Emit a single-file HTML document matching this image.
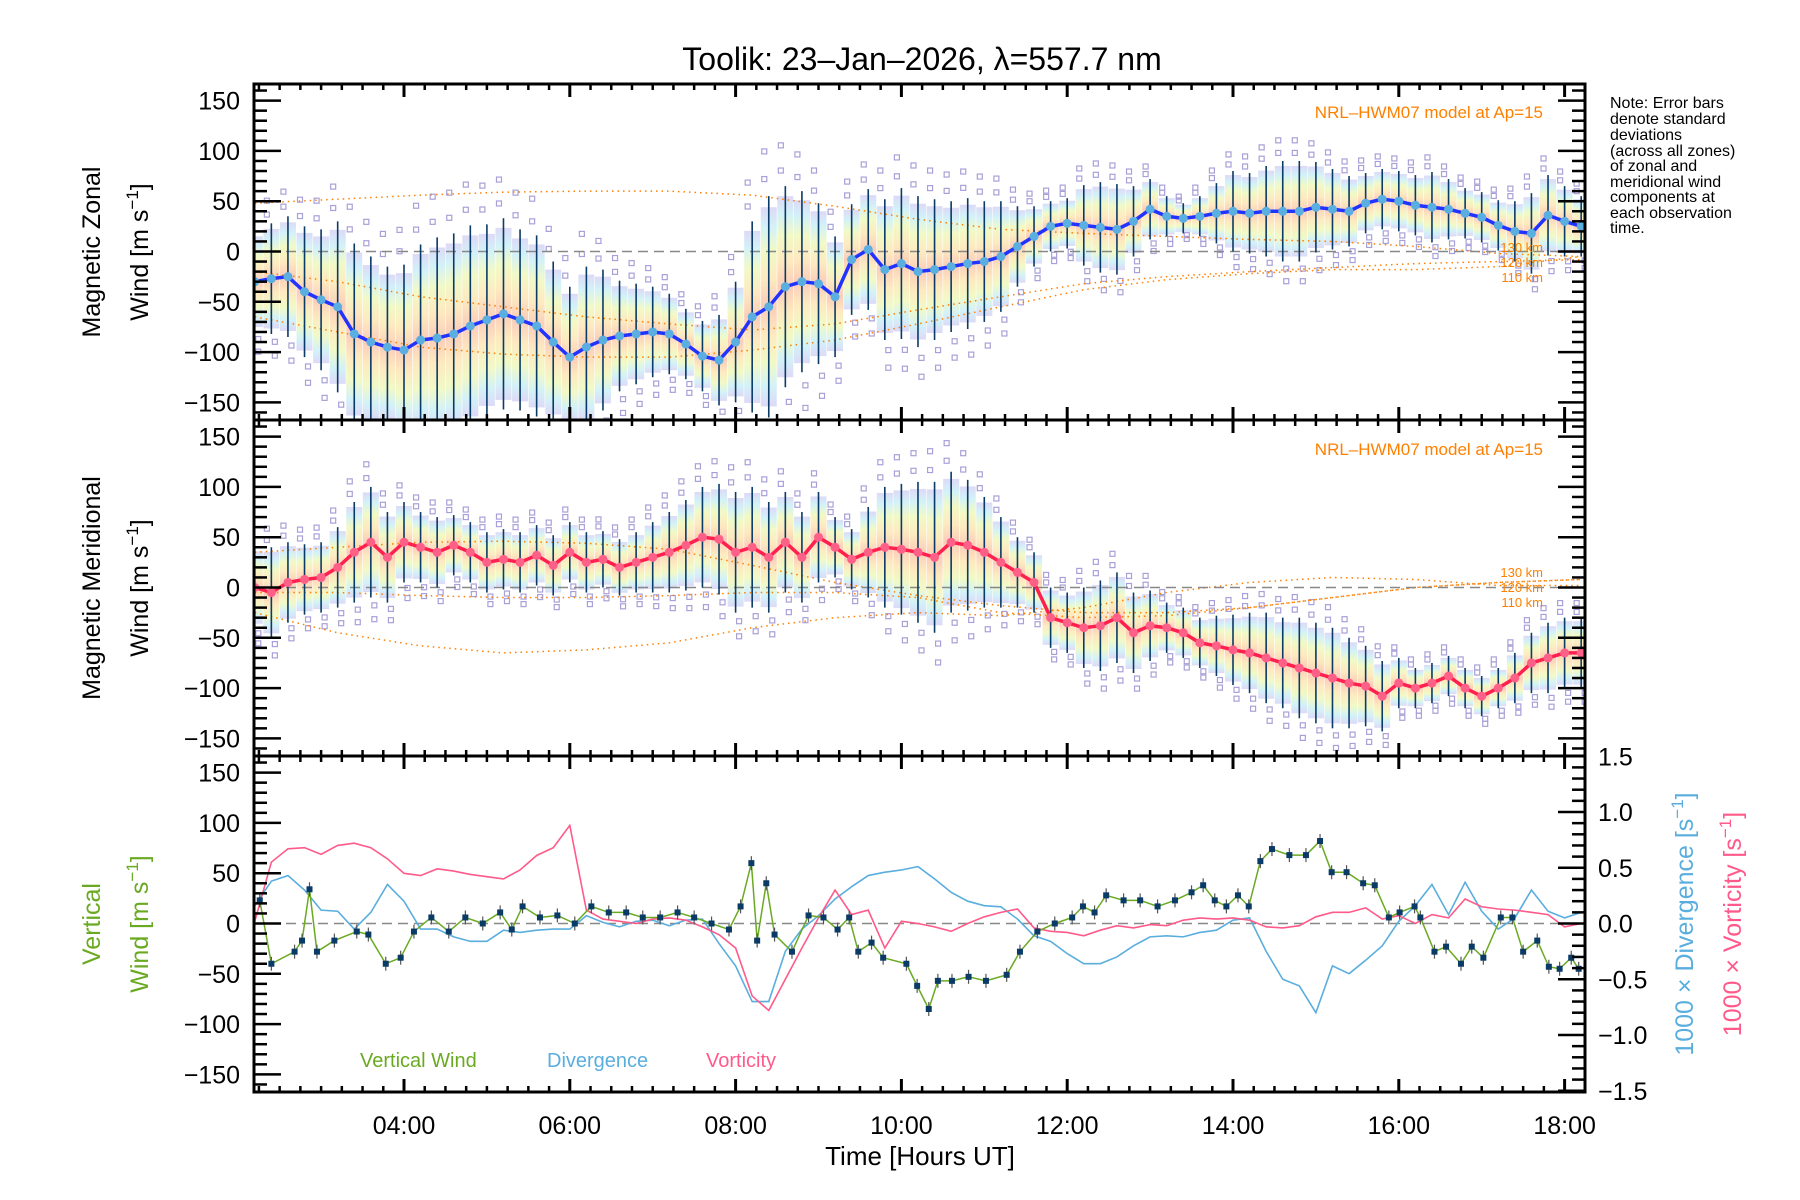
<!DOCTYPE html>
<html><head><meta charset="utf-8">
<style>
html,body{margin:0;padding:0;background:#fff;}
svg{display:block;font-family:"Liberation Sans",sans-serif;}
</style></head>
<body>
<svg id="chart" width="1800" height="1200" viewBox="0 0 1800 1200" xmlns="http://www.w3.org/2000/svg">
<defs>
<linearGradient id="rb" x1="0" y1="0" x2="0" y2="1">
<stop offset="0" stop-color="#d4d0f4"/>
<stop offset="0.1" stop-color="#c8eef6"/>
<stop offset="0.22" stop-color="#eef8b8"/>
<stop offset="0.36" stop-color="#fde4b0"/>
<stop offset="0.5" stop-color="#f9c0a8"/>
<stop offset="0.64" stop-color="#fde4b0"/>
<stop offset="0.78" stop-color="#eef8b8"/>
<stop offset="0.9" stop-color="#c8eef6"/>
<stop offset="1" stop-color="#d4d0f4"/>
</linearGradient>
<clipPath id="c1"><rect x="255" y="86" width="1329" height="334"/></clipPath>
<clipPath id="c2"><rect x="255" y="422" width="1329" height="333"/></clipPath>
<clipPath id="c3"><rect x="255" y="758" width="1329" height="333"/></clipPath>
</defs>
<text x="922" y="70" font-size="32" text-anchor="middle">Toolik: 23–Jan–2026, λ=557.7 nm</text>
<g id="layer"></g>
<text font-size="16" x="1610">
<tspan x="1610" y="108">Note: Error bars</tspan>
<tspan x="1610" y="124">denote standard</tspan>
<tspan x="1610" y="140">deviations</tspan>
<tspan x="1610" y="156">(across all zones)</tspan>
<tspan x="1610" y="171">of zonal and</tspan>
<tspan x="1610" y="187">meridional wind</tspan>
<tspan x="1610" y="202">components at</tspan>
<tspan x="1610" y="218">each observation</tspan>
<tspan x="1610" y="233">time.</tspan>
</text>
</svg>
<script>
// ---- data ----
const T0 = 2.2, DT = 0.2;
const zonalMean = [-30,-27,-25,-40,-48,-55,-82,-90,-95,-98,-88,-86,-82,-74,-68,-62,-68,-74,-90,-105,-95,-88,-84,-82,-80,-82,-92,-104,-108,-90,-65,-55,-35,-30,-32,-45,-8,2,-18,-12,-20,-18,-15,-12,-10,-5,5,15,25,28,26,24,22,30,42,35,33,35,38,40,38,40,40,40,44,42,40,48,52,50,46,44,42,38,34,26,20,18,36,30,25];
const zonalSd = [50,55,60,65,70,85,90,85,80,85,95,100,100,100,95,95,90,90,80,70,80,70,55,50,45,40,35,35,45,60,95,110,100,90,80,60,55,60,70,75,75,70,65,65,60,55,40,30,25,25,40,45,45,35,30,20,15,20,30,40,40,45,50,50,45,40,35,30,30,30,30,35,30,25,25,25,30,40,40,35,30];
const meridMean = [0,-5,5,8,10,20,35,45,30,45,40,35,42,35,25,28,25,32,22,35,25,28,20,25,30,35,42,50,48,35,40,30,45,30,50,40,28,35,40,38,35,30,45,42,35,25,15,5,-30,-35,-40,-38,-30,-45,-38,-40,-45,-55,-58,-62,-65,-70,-75,-80,-85,-90,-95,-98,-108,-95,-100,-95,-88,-100,-108,-100,-90,-75,-70,-65,-65];
const meridSd = [40,45,40,35,35,40,50,55,45,40,35,35,30,30,30,30,30,30,30,30,30,28,28,30,35,40,45,50,55,60,60,55,50,45,45,30,30,45,60,65,70,75,70,65,55,45,35,30,30,30,40,45,45,40,35,25,25,25,30,35,40,45,45,50,50,50,45,40,35,25,20,20,20,20,20,20,25,30,35,35,35];
const modelHours = [2.2,3.2,4.2,5.2,6.2,7.2,8.2,9.2,10.2,11.2,12.2,13.2,14.2,15.2,16.2,17.2,18.2];
const zonal130 = [48,52,56,59,60,60,56,45,32,22,18,15,12,10,5,-2,-5];
const zonal120 = [-20,-30,-45,-55,-65,-72,-78,-72,-58,-45,-32,-25,-20,-16,-12,-10,-8];
const zonal110 = [-65,-80,-95,-102,-105,-105,-98,-88,-72,-55,-38,-28,-22,-18,-18,-15,-5];
const merid130 = [35,40,45,46,44,38,22,5,-8,-18,-25,-25,-20,-10,0,5,8];
const merid120 = [-5,-5,-8,-10,-10,-8,-5,-5,-10,-25,-30,-28,-20,-10,0,5,8];
const merid110 = [-25,-45,-58,-65,-62,-55,-40,-30,-25,-28,-20,-5,5,10,8,2,2];
const vertHours = [2.26,2.40,2.68,2.77,2.86,2.95,3.16,3.43,3.57,3.78,3.96,4.12,4.33,4.54,4.74,4.95,5.16,5.30,5.43,5.64,5.85,6.06,6.26,6.47,6.68,6.88,7.09,7.30,7.50,7.71,7.92,8.06,8.19,8.26,8.37,8.47,8.68,8.88,9.06,9.23,9.37,9.48,9.64,9.78,10.06,10.19,10.33,10.44,10.61,10.81,11.02,11.27,11.43,11.64,11.85,12.06,12.19,12.33,12.47,12.68,12.88,13.09,13.30,13.50,13.64,13.78,13.92,14.06,14.19,14.33,14.47,14.68,14.88,15.05,15.19,15.37,15.57,15.71,15.88,16.01,16.19,16.26,16.43,16.57,16.75,16.88,17.02,17.23,17.37,17.50,17.67,17.81,17.94,18.08,18.17];
const vertWind = [23,-40,-28,-17,34,-28,-17,-8,-11,-40,-34,-8,6,-8,6,0,11,-6,17,6,8,0,17,11,11,6,6,11,6,0,-6,17,60,-17,40,-11,-28,8,6,-6,6,-28,-19,-34,-40,-62,-85,-57,-57,-53,-57,-51,-28,-8,0,6,17,11,28,23,23,17,23,31,38,23,17,28,17,62,74,68,68,82,51,51,40,38,6,11,17,6,-28,-23,-40,-23,-34,6,6,-28,-17,-43,-45,-34,-45];
const divergence = [0.16,0.38,0.43,0.30,0.12,0.11,-0.05,0.10,0.35,0.20,-0.05,-0.05,-0.12,-0.16,-0.16,-0.06,-0.08,-0.06,-0.05,-0.05,0.07,0.01,-0.03,0.02,0.03,-0.02,0.03,0.04,-0.18,-0.38,-0.70,-0.70,-0.25,-0.05,0.07,0.22,0.33,0.43,0.46,0.48,0.51,0.40,0.28,0.20,0.16,0.15,0.04,-0.11,-0.16,-0.27,-0.36,-0.36,-0.30,-0.20,-0.12,-0.11,-0.12,-0.08,-0.06,0.03,0.05,-0.25,-0.50,-0.56,-0.80,-0.38,-0.45,-0.33,-0.20,0.02,0.16,0.35,0.08,0.37,0.11,-0.05,0.05,0.30,0.11,0.05,0.10];
const vorticity = [0.02,0.55,0.67,0.68,0.62,0.70,0.72,0.68,0.58,0.45,0.43,0.49,0.47,0.44,0.42,0.40,0.48,0.61,0.68,0.88,0.12,0.04,0.02,0.0,0.04,0.05,0.03,-0.03,-0.10,-0.22,-0.65,-0.78,-0.50,-0.22,0.05,0.30,0.08,0.12,-0.22,0.02,0.0,-0.03,-0.07,0.0,0.06,0.10,0.13,-0.04,-0.07,-0.08,-0.11,-0.06,-0.02,-0.04,-0.01,-0.02,0.03,0.05,0.04,0.05,0.03,-0.03,-0.04,-0.02,0.06,0.10,0.10,0.14,0.04,0.07,0.0,0.08,0.05,0.22,0.15,0.13,0.12,0.10,0.08,-0.03,0.0];
const yTicks = [-150,-100,-50,0,50,100,150];
const rTicks = [-1.5,-1.0,-0.5,0.0,0.5,1.0,1.5];
const xTickHours = [4,6,8,10,12,14,16,18];
const xTickLabels = ["04:00","06:00","08:00","10:00","12:00","14:00","16:00","18:00"];

// ---- axes ----
const L=254, R=1585, PT=[84,420,756], PH=336;
const xS = h => 404 + (h-4)*82.9;
const yS = (p,v) => PT[p] + 167.5 - v*1.006;
const yR = v => PT[2] + 167.5 - v*111.5;
const NS='http://www.w3.org/2000/svg';
const layer=document.getElementById('layer');
function mk(tag, attrs, parent){const e=document.createElementNS(NS,tag);for(const k in attrs)e.setAttribute(k,attrs[k]);(parent||layer).appendChild(e);return e;}
function grp(name, clip){const g=mk('g', clip?{'clip-path':'url(#'+clip+')'}:{});


return g;}
const hourOf = i => T0 + DT*i;

function windPanel(p, mean, sd, lineCol, dotCol, models, prefix){
  const g=grp(prefix+'-series','c'+(p+1));
  mean.forEach((m,i)=>{
    const r=mk('rect',{x:xS(hourOf(i))-8,y:yS(p,m+sd[i]*0.9),width:16,height:sd[i]*1.8*1.006,fill:'url(#rb)',opacity:0.8},g);
    
    
  });
  mean.forEach((m,i)=>{
    [1.15,-1.15,1.4,-1.4].forEach((f,k)=>{
      const q=mk('rect',{x:xS(hourOf(i))-3+(k%2?4:-4),y:yS(p,m+sd[i]*f)-3,width:5,height:5,fill:'none',stroke:'#a8a0d8','stroke-width':1.2},g);
      
      
    });
  });
  models.forEach((arr,k)=>{
    const pl=mk('polyline',{points:arr.map((v,i)=>xS(modelHours[i])+','+yS(p,v)).join(' '),fill:'none',stroke:'#ff8000','stroke-width':1.5,'stroke-dasharray':'1.5 4'},g);
    
    
  });
  const z=mk('line',{x1:L,x2:R,y1:yS(p,0),y2:yS(p,0),stroke:'#888','stroke-width':1.5,'stroke-dasharray':'10 6'},g);
  
  
  mean.forEach((m,i)=>{
    const x=xS(hourOf(i));
    const b=mk('line',{x1:x,x2:x,y1:yS(p,m+sd[i]),y2:yS(p,m-sd[i]),stroke:'#0a3a66','stroke-width':1.6},g);
    
    
  });
  const ln=mk('polyline',{points:mean.map((m,i)=>xS(hourOf(i))+','+yS(p,m)).join(' '),fill:'none',stroke:lineCol,'stroke-width':3.5},g);
  
  
  mean.forEach((m,i)=>{
    const c=mk('circle',{cx:xS(hourOf(i)),cy:yS(p,m),r:4.5,fill:dotCol},g);
    
    
  });
}
windPanel(0, zonalMean, zonalSd, '#2233ff', '#5aaee0', [zonal130,zonal120,zonal110], 'zonal');
windPanel(1, meridMean, meridSd, '#ff2050', '#ff6088', [merid130,merid120,merid110], 'meridional');

(function(){
  const g=grp('vertical-panel-series','c3');
  const z=mk('line',{x1:L,x2:R,y1:yS(2,0),y2:yS(2,0),stroke:'#888','stroke-width':1.5,'stroke-dasharray':'10 6'},g);
  
  
  const d=mk('polyline',{points:divergence.map((v,i)=>xS(hourOf(i))+','+yR(v)).join(' '),fill:'none',stroke:'#5aaede','stroke-width':1.6},g);
  
  
  const vo=mk('polyline',{points:vorticity.map((v,i)=>xS(hourOf(i))+','+yR(v)).join(' '),fill:'none',stroke:'#ff5a8a','stroke-width':1.6},g);
  
  
  const w=mk('polyline',{points:vertWind.map((v,i)=>xS(vertHours[i])+','+yS(2,v)).join(' '),fill:'none',stroke:'#6aaa22','stroke-width':1.5},g);
  
  
  vertWind.forEach((v,i)=>{
    const x=xS(vertHours[i]), y=yS(2,v);
    const e=mk('line',{x1:x,x2:x,y1:y-7,y2:y+7,stroke:'#555','stroke-width':1.2},g);
    
    
    const s=mk('rect',{x:x-3,y:y-3,width:6,height:6,fill:'#0a3a66'},g);
    
    
  });
})();

const ax=grp('axes');
for(let p=0;p<3;p++){
  const top=PT[p], bot=PT[p]+PH;
  const f=mk('rect',{x:L,y:top,width:R-L,height:PH,fill:'none',stroke:'#000','stroke-width':3},ax);
  
  
  for(let v=-160; v<=160; v+=10){
    const y=yS(p,v); const maj=(v%50===0);
    const len=maj?27:13;
    mk('line',{x1:L,x2:L+len,y1:y,y2:y,stroke:'#000','stroke-width':2.5},ax);
    if(p<2) mk('line',{x1:R,x2:R-len,y1:y,y2:y,stroke:'#000','stroke-width':2.5},ax);
  }
  yTicks.forEach(v=>{
    const t=mk('text',{x:240,y:yS(p,v)+9,'font-size':25,'text-anchor':'end'},ax);
    t.textContent=(v<0?'−':'')+Math.abs(v);
    
    
  });
  for(let h=2.25; h<=18.24; h+=0.25){
    const x=xS(h); const maj=Math.abs(h/2-Math.round(h/2))<0.01;
    const len=maj?13:6;
    mk('line',{x1:x,x2:x,y1:top,y2:top+len,stroke:'#000','stroke-width':maj?3:2.5},ax);
    mk('line',{x1:x,x2:x,y1:bot,y2:bot-len,stroke:'#000','stroke-width':maj?3:2.5},ax);
  }
}
for(let v=-1.5; v<=1.501; v+=0.1){
  const y=yR(v); const maj=Math.abs(v*2-Math.round(v*2))<0.01;
  mk('line',{x1:R,x2:R-(maj?27:13),y1:y,y2:y,stroke:'#000','stroke-width':2.5},ax);
}
rTicks.forEach(v=>{
  const t=mk('text',{x:1598,y:yR(v)+9,'font-size':25},ax);
  t.textContent=(v<0?'−':'')+Math.abs(v).toFixed(1);
  
  
});
xTickHours.forEach((h,i)=>{
  const t=mk('text',{x:xS(h),y:1134,'font-size':25,'text-anchor':'middle'},ax);
  t.textContent=xTickLabels[i];
  
  
});
function txt(name, s, attrs){const t=mk('text',attrs,layer);t.textContent=s;


return t;}
txt('x-axis-title','Time [Hours UT]',{x:920,y:1165,'font-size':26,'text-anchor':'middle'});
function rot(name,s,x,y,col){const t=mk('text',{x:x,y:y,'font-size':25,'text-anchor':'middle',fill:col,transform:'rotate(-90 '+x+' '+y+')'},layer);t.innerHTML=s;

}
const unit='[m s<tspan dy="-10" font-size="17">−1</tspan><tspan dy="10">]</tspan>';
rot('zonal-y-title','Magnetic Zonal',100,252,'#000');
rot('zonal-y-unit','Wind '+unit,148,252,'#000');
rot('meridional-y-title','Magnetic Meridional',100,588,'#000');
rot('meridional-y-unit','Wind '+unit,148,588,'#000');
rot('vertical-y-title','Vertical',100,924,'#6aaa22');
rot('vertical-y-unit','Wind '+unit,148,924,'#6aaa22');
rot('divergence-y-title','1000 × Divergence [s<tspan dy="-10" font-size="17">−1</tspan><tspan dy="10">]</tspan>',1693,924,'#5aaede');
rot('vorticity-y-title','1000 × Vorticity [s<tspan dy="-10" font-size="17">−1</tspan><tspan dy="10">]</tspan>',1741,924,'#ff5a8a');
txt('model-label-zonal','NRL–HWM07 model at Ap=15',{x:1543,y:118,'font-size':17,fill:'#ff8000','text-anchor':'end'});
txt('model-label-meridional','NRL–HWM07 model at Ap=15',{x:1543,y:455,'font-size':17,fill:'#ff8000','text-anchor':'end'});
[['130 km',252],['120 km',267],['110 km',282]].forEach(a=>txt('zonal-altitude-label',a[0],{x:1543,y:a[1],'font-size':13,fill:'#ff8000','text-anchor':'end'}));
[['130 km',577],['120 km',592],['110 km',607]].forEach(a=>txt('meridional-altitude-label',a[0],{x:1543,y:a[1],'font-size':13,fill:'#ff8000','text-anchor':'end'}));
txt('legend-vertical-wind','Vertical Wind',{x:360,y:1067,'font-size':20,fill:'#6aaa22'});
txt('legend-divergence','Divergence',{x:547,y:1067,'font-size':20,fill:'#5aaede'});
txt('legend-vorticity','Vorticity',{x:706,y:1067,'font-size':20,fill:'#ff5a8a'});
</script>
</body></html>
